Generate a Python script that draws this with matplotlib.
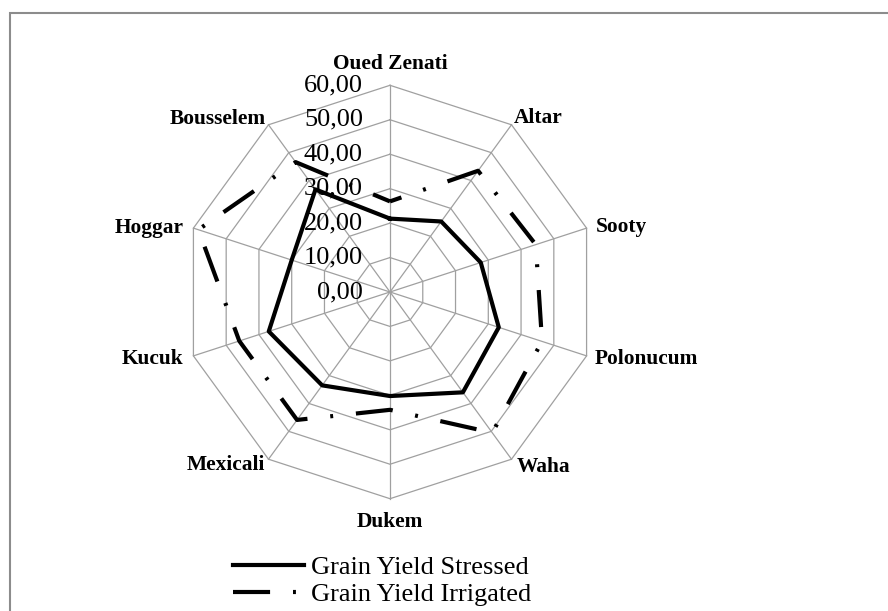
import matplotlib.pyplot as plt
import numpy as np
from matplotlib.patches import Rectangle

CULTIVARS = ["Oued Zenati", "Altar", "Sooty", "Polonucum", "Waha",
             "Dukem", "Mexicali", "Kucuk", "Hoggar", "Bousselem"]
STRESSED = [21.3, 25.3, 27.7, 33.2, 36.0, 30.2, 33.5, 37.0, 30.0, 36.8]
IRRIGATED = [26.3, 43.5, 44.5, 46.4, 50.5, 34.2, 45.9, 46.0, 58.5, 46.6]
R_TICKS = [0, 10, 20, 30, 40, 50, 60]
R_TICK_LABELS = ["0,00", "10,00", "20,00", "30,00", "40,00", "50,00", "60,00"]
SERIES_NAMES = ["Grain Yield Stressed", "Grain Yield Irrigated"]

# label offsets in pixels from each outer vertex
LABEL_OFFSETS = [(0, 21, "center"), (2, 7, "left"), (9, 1, "left"),
                 (8, -3, "left"), (5, -8, "left"), (0, -23, "center"),
                 (-3, -6, "right"), (-10, -3, "right"), (-10, 0, "right"),
                 (-3, 6, "right")]

plt.rcParams["font.family"] = ["Liberation Serif", "DejaVu Serif"]

W, H = 888, 611
fig = plt.figure(figsize=(W / 100, H / 100), dpi=100)
cx, cy, rad = 390, 292, 206.7
ax = fig.add_axes([(cx - rad) / W, (H - cy - rad) / H, 2 * rad / W, 2 * rad / H],
                  projection="polar")
ax.set_theta_offset(np.pi / 2)
ax.set_theta_direction(-1)
ax.set_ylim(0, max(R_TICKS))
ax.grid(False)
ax.set_xticks([])
ax.set_yticks([])
ax.spines["polar"].set_visible(False)
ax.patch.set_visible(False)

n = len(CULTIVARS)
angles = np.linspace(0, 2 * np.pi, n, endpoint=False)
closed = np.append(angles, angles[0])

grid_kw = dict(color="#a0a0a0", lw=0.9, zorder=1, clip_on=False)
for v in R_TICKS[1:]:
    ax.plot(closed, [v] * (n + 1), **grid_kw)
for a in angles:
    ax.plot([a, a], [0, max(R_TICKS)], **grid_kw)

ax.plot(closed, STRESSED + STRESSED[:1], color="black", lw=3.0,
        zorder=3, clip_on=False, label=SERIES_NAMES[0])
ax.plot(closed, IRRIGATED + IRRIGATED[:1], color="black", lw=3.0,
        linestyle=(6, (8.9, 5.5, 0.7, 5.5)), zorder=3, clip_on=False,
        label=SERIES_NAMES[1])

for v, lab in zip(R_TICKS, R_TICK_LABELS):
    ax.annotate(lab, xy=(0, v), xytext=(-27, 0), textcoords="offset pixels",
                ha="right", va="center", fontsize=19, zorder=2)

for a, name, (dx, dy, ha) in zip(angles, CULTIVARS, LABEL_OFFSETS):
    ax.annotate(name, xy=(a, max(R_TICKS)), xytext=(dx, dy),
                textcoords="offset pixels", ha=ha, va="center",
                fontsize=15.4, fontweight="bold")

leg = fig.legend(loc="upper left", bbox_to_anchor=(233 / W, 1 - 556 / H),
                 frameon=False, fontsize=19, handlelength=2.68,
                 handletextpad=0.26, labelspacing=0.13, borderpad=0,
                 borderaxespad=0)
# legend sample for irrigated starts with a full dash
leg.get_lines()[1].set_linestyle((0, (8.9, 5.5, 0.7, 5.5)))

fig.patches.append(Rectangle((10 / W, -0.1), 1.2, (H - 13) / H + 0.1,
                             transform=fig.transFigure, fill=False,
                             ec="#8c8c8c", lw=1.5))

fig.savefig("out.png", dpi=100)
